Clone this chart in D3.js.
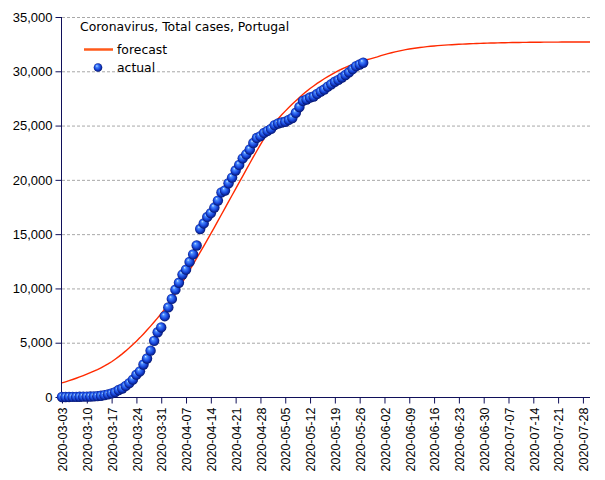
<!DOCTYPE html>
<html>
<head>
<meta charset="utf-8">
<script src="https://cdn.jsdelivr.net/npm/d3@7"></script>
<style>
  html, body { margin: 0; padding: 0; background: #fff; }
  svg { display: block; }
</style>
</head>
<body>
<svg id="chart" width="605" height="480"></svg>
<script>
// ---- data ----
const title = "Coronavirus, Total cases, Portugal";
const seriesNames = ["forecast", "actual"];
const startDate = "2020-03-03";
const endDate = "2020-07-30";
// actual cumulative cases, one value per day from 2020-03-03
const actualValues = [2,4,6,9,13,21,30,39,41,59,78,112,169,245,331,448,642,785,1020,1280,
  1600,2060,2362,2995,3544,4268,5170,5962,6408,7443,8251,9034,9886,10524,11278,11730,12442,13141,13956,15472,
  15987,16585,16934,17448,18091,18841,19022,19685,20206,20863,21379,21982,22353,22797,23392,23864,24027,24322,24505,24692,
  25045,25190,25282,25351,25524,25702,26182,26715,27268,27406,27581,27679,27913,28132,28319,28583,28810,29036,29209,29432,
  29660,29912,30200,30471,30623,30788];
// forecast, one value per day from 2020-03-03 to 2020-07-30
const forecastValues = [1300,1400,1505,1615,1730,1850,1975,2105,2240,2380,
  2525,2690,2860,3045,3245,3480,3720,3975,4245,4530,
  4830,5145,5470,5810,6165,6530,6905,7290,7685,8090,
  8520,9010,9520,10040,10580,11120,11670,12220,12780,13340,
  13900,14470,15040,15630,16220,16810,17400,17990,18580,19170,
  19760,20350,20940,21530,22110,22680,23240,23790,24320,24830,
  25250,25630,25990,26330,26660,26980,27290,27590,27880,28150,
  28410,28650,28880,29100,29310,29510,29700,29880,30050,30210,
  30360,30500,30630,30750,30860,30960,31060,31150,31240,31330,
  31450,31540,31630,31710,31790,31860,31930,31990,32050,32100,
  32150,32190,32230,32270,32300,32330,32360,32390,32410,32430,
  32450,32470,32490,32505,32520,32535,32550,32560,32570,32580,
  32590,32600,32610,32620,32630,32635,32640,32645,32650,32655,
  32660,32665,32670,32675,32680,32680,32685,32685,32690,32690,
  32690,32695,32695,32695,32700,32700,32700,32700,32700,32700];
const xTickLabels = ["2020-03-03","2020-03-10","2020-03-17","2020-03-24","2020-03-31","2020-04-07",
  "2020-04-14","2020-04-21","2020-04-28","2020-05-05","2020-05-12","2020-05-19","2020-05-26",
  "2020-06-02","2020-06-09","2020-06-16","2020-06-23","2020-06-30","2020-07-07","2020-07-14",
  "2020-07-21","2020-07-28"];
const yTickValues = [0,5000,10000,15000,20000,25000,30000,35000];

// ---- setup ----
const parse = d3.utcParse("%Y-%m-%d");
const t0 = parse(startDate);
const dayOf = i => d3.utcDay.offset(t0, i);
const actual = actualValues.map((v, i) => ({date: dayOf(i), value: v}));
const forecast = forecastValues.map((v, i) => ({date: dayOf(i), value: v}));

const svg = d3.select("#chart");
const margin = {left: 62, right: 15, top: 17, bottom: 83};
const W = 605, H = 480;
const x = d3.scaleUtc().domain([t0, parse(endDate)]).range([margin.left, W - margin.right]);
const y = d3.scaleLinear().domain([0, 35000]).range([H - margin.bottom, margin.top]);
const axisColor = "#10105a";

const defs = svg.append("defs");
const grad = defs.append("radialGradient").attr("id", "ball")
  .attr("cx", "50%").attr("cy", "50%").attr("r", "55%").attr("fx", "35%").attr("fy", "30%");
grad.append("stop").attr("offset", "0%").attr("stop-color", "#d0e8ff");
grad.append("stop").attr("offset", "22%").attr("stop-color", "#4a8cff");
grad.append("stop").attr("offset", "60%").attr("stop-color", "#1846dc");
grad.append("stop").attr("offset", "100%").attr("stop-color", "#000a5a");

// gridlines
svg.append("g").selectAll("line").data(yTickValues.filter(v => v > 0)).join("line")
  .attr("x1", margin.left).attr("x2", W - margin.right)
  .attr("y1", d => y(d) + 0.5).attr("y2", d => y(d) + 0.5)
  .attr("stroke", "#a8a8a8").attr("stroke-width", 1).attr("stroke-dasharray", "3,2");

// y axis
const yAxis = svg.append("g").attr("transform", `translate(${margin.left - 0.5},0)`)
  .call(d3.axisLeft(y).tickValues(yTickValues).tickSize(6).tickPadding(3).tickFormat(d3.format(",")));
yAxis.select(".domain").attr("stroke", axisColor).attr("d", `M0,${y(35000)}V${y(0)}`);
yAxis.selectAll(".tick line").attr("stroke", axisColor);
yAxis.selectAll("text").attr("font-family", "Liberation Sans, Arial, sans-serif").attr("font-size", 13).attr("fill", "#000");

// x axis
const xAxis = svg.append("g").attr("transform", `translate(0,${y(0) + 0.5})`)
  .call(d3.axisBottom(x).tickValues(xTickLabels.map(parse)).tickSize(6).tickFormat(d3.utcFormat("%Y-%m-%d")));
xAxis.select(".domain").attr("stroke", axisColor).attr("d", `M${margin.left},0H${W - margin.right}`);
xAxis.selectAll(".tick line").attr("stroke", axisColor);
xAxis.selectAll("text")
  .attr("font-family", "Liberation Sans, Arial, sans-serif").attr("font-size", 12.5).attr("fill", "#000")
  .attr("text-anchor", "end")
  .attr("transform", "rotate(-90)")
  .attr("x", -10).attr("y", 0).attr("dy", "0.38em");

// forecast line
svg.append("path").datum(forecast)
  .attr("fill", "none").attr("stroke", "#ff2a00").attr("stroke-width", 1.4)
  .attr("d", d3.line().x(d => x(d.date)).y(d => y(d.value)));

// actual points
svg.append("g").selectAll("circle").data(actual).join("circle")
  .attr("cx", d => x(d.date)).attr("cy", d => y(d.value)).attr("r", 5.2)
  .attr("fill", "url(#ball)");

// title & legend
const font2 = "DejaVu Sans, Verdana, sans-serif";
svg.append("text").attr("x", 80).attr("y", 31).attr("font-family", font2).attr("font-size", 12.4)
  .attr("fill", "#000").text(title);
const lg = svg.append("g");
lg.append("line").attr("x1", 84).attr("x2", 113).attr("y1", 49.5).attr("y2", 49.5)
  .attr("stroke", "#ff5a1a").attr("stroke-width", 2.5);
lg.append("text").attr("x", 117).attr("y", 54).attr("font-family", font2).attr("font-size", 12.4)
  .attr("fill", "#000").text(seriesNames[0]);
lg.append("circle").attr("cx", 98).attr("cy", 67.5).attr("r", 4.3).attr("fill", "url(#ball)");
lg.append("text").attr("x", 117).attr("y", 72).attr("font-family", font2).attr("font-size", 12.4)
  .attr("fill", "#000").text(seriesNames[1]);
</script>
</body>
</html>
